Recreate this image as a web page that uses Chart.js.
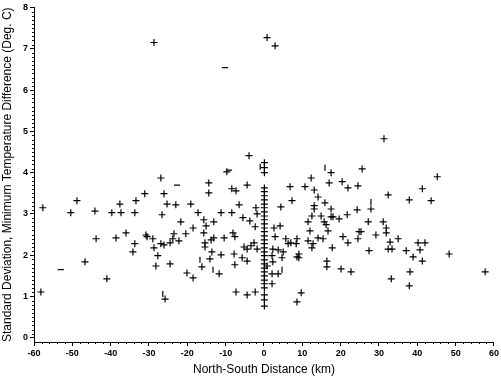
<!DOCTYPE html>
<html>
<head>
<meta charset="utf-8">
<script src="https://cdn.jsdelivr.net/npm/chart.js@4.4.0/dist/chart.umd.min.js"></script>
<style>
  html, body { margin: 0; padding: 0; background: #fff; }
  #wrap { width: 501px; height: 377px; }
</style>
</head>
<body>
<div id="wrap"><canvas id="sdChart" width="501" height="377"></canvas></div>
<script>
// station pairs: north-south separation (km) vs std. dev. of Tmin difference (deg C)
const distKm = [
  -28.7, 0.8, 2.9, 31.3, -3.9, -57.7, -48.8, -50.4, -44.1, -43.8,
  -46.7, -58.2, -41.0, -39.7, -37.3, -37.6, -38.6, -36.0, -33.4, -33.7,
  -33.7, -34.2, -31.1, -30.8, -30.5, -29.0, -28.7, -27.7, -28.2, -26.9,
  -26.1, -26.1, -26.6, -25.3, -25.8, -26.9, -23.0, -19.1, -21.7, -23.5,
  -20.4, -23.8, -24.5, -22.2, -24.5, -17.2, -14.4, -14.4, -9.7, -8.4,
  -7.3, -15.7, -13.1, -15.1, -18.5, -11.2, -8.4, -15.7, -13.1, -13.8,
  -10.4, -15.4, -15.4, -8.1, -7.6, -13.6, -11.2, -14.1, -16.2, -11.7,
  -20.1, -18.5, -7.8, -7.6, -7.3, -4.4, -6.5, -2.1, -1.8, -5.5,
  -3.7, -2.3, -5.2, -4.4, -3.4, -2.6, -1.8, -5.7, -4.4, -4.4,
  -2.3, 6.8, 7.3, 4.4, 2.6, 4.2, 2.9, 5.7, 7.0, 8.4,
  8.6, 2.3, 3.7, 5.0, 2.1, 4.7, 2.3, 8.6, 2.1, 3.7,
  2.1, 8.6, 17.5, 17.0, 12.3, 10.7, 13.1, 20.4, 21.9, 14.1,
  13.1, 13.1, 15.9, 17.5, 14.9, 12.5, 17.5, 18.0, 19.6, 21.7,
  11.5, 15.7, 16.2, 16.7, 12.0, 6.3, 11.5, 12.8, 14.1, 15.4,
  12.5, 9.1, 9.1, 17.8, 20.6, 21.9, 16.4, 16.4, 20.1, 9.7,
  25.6, 24.5, 32.4, 37.9, 41.3, 45.2, 43.6, 27.9, 24.3, 27.2,
  31.1, 31.9, 31.9, 29.2, 24.8, 25.3, 24.5, 27.4, 32.9, 32.4,
  33.4, 35.0, 37.1, 40.2, 42.0, 40.7, 38.9, 41.3, 48.3, 38.1,
  37.9, 33.2, 22.7, 57.7, 0.8,
  // pairs at (almost) zero separation
  0.1, 0.1, 0.1, 0.1, 0.1, 0.1, 0.1, 0.1, 0.1, 0.1,
  0.1, 0.1, 0.1, 0.1, 0.1, 0.1, 0.1, 0.1, 0.1, 0.1,
  0.1, 0.1, 0.1, 0.1, 0.1, 0.1, 0.1, 0.1, 0.1, 0.1,
  0.1, 0.1
];
const sdTmin = [
  7.15, 7.27, 7.07, 4.82, 4.41, 3.15, 3.32, 3.03, 3.07, 2.40,
  1.84, 1.11, 1.43, 3.03, 3.03, 3.24, 2.42, 2.54, 3.32, 3.03,
  2.28, 2.08, 3.49, 2.49, 2.45, 2.40, 2.18, 1.99, 1.74, 2.28,
  2.25, 3.49, 2.98, 3.24, 0.94, 3.87, 3.22, 3.24, 2.81, 2.52,
  2.52, 2.40, 2.30, 2.35, 1.79, 3.03, 3.75, 3.51, 4.02, 3.61,
  3.56, 2.86, 2.81, 2.71, 2.66, 3.03, 3.03, 2.54, 2.42, 2.37,
  2.42, 2.30, 2.20, 2.54, 2.45, 2.08, 2.01, 1.91, 1.72, 1.55,
  1.57, 1.45, 2.03, 1.77, 1.11, 3.70, 3.22, 3.15, 3.00, 2.91,
  2.83, 2.69, 2.20, 2.15, 2.23, 2.30, 2.15, 1.94, 1.86, 1.04,
  1.11, 3.66, 3.32, 3.17, 2.66, 2.71, 2.45, 2.40, 2.30, 2.28,
  2.40, 2.15, 2.13, 2.08, 1.99, 1.94, 1.84, 1.96, 1.55, 1.55,
  1.31, 0.87, 4.00, 3.75, 3.87, 3.66, 3.58, 3.78, 3.63, 3.41,
  3.20, 3.12, 3.27, 3.12, 2.95, 2.95, 2.93, 2.93, 2.88, 2.98,
  2.81, 2.81, 2.74, 2.59, 2.59, 2.28, 2.35, 2.28, 2.42, 2.40,
  2.18, 2.03, 1.94, 2.18, 2.45, 2.30, 1.86, 1.72, 1.67, 1.09,
  4.09, 3.68, 3.46, 3.34, 3.61, 3.90, 3.32, 3.12, 3.10, 2.81,
  2.81, 2.66, 2.54, 2.49, 2.57, 2.57, 2.40, 2.11, 2.32, 2.15,
  2.15, 2.40, 2.11, 2.30, 2.30, 2.13, 1.96, 1.86, 2.03, 1.60,
  1.26, 1.43, 1.60, 1.60, 1.74,
  4.24, 4.12, 4.00, 3.63, 3.54, 3.44, 3.34, 3.24, 3.15, 3.05,
  2.95, 2.86, 2.76, 2.66, 2.57, 2.47, 2.37, 2.28, 2.18, 2.08,
  1.99, 1.89, 1.79, 1.69, 1.60, 1.50, 1.40, 1.31, 1.21, 1.04,
  0.92, 0.77
];
// a few marks printed only as a short dash or a short bar
const dashX = [-10.2, -22.7, -53.0, -9.1];
const dashY = [6.54, 3.70, 1.65, 4.06];
const barX = [-26.4, -16.7, -13.3, -1.0, 4.7, 15.9, 27.9];
const barY = [1.06, 1.89, 1.65, 4.14, 1.65, 4.12, 3.29];

const xTicks = [-60, -50, -40, -30, -20, -10, 0, 10, 20, 30, 40, 50, 60];
const yTicks = [0, 1, 2, 3, 4, 5, 6, 7, 8];

function toPoints(xs, ys) {
  return xs.map((x, i) => ({ x: x, y: ys[i] }));
}

// small minor ticks along both axes (every 2 km, every 0.1 deg)
const minorTicksPlugin = {
  id: 'minorTicks',
  afterDraw: (chart) => {
    const ctx = chart.ctx;
    const xs = chart.scales.x;
    const ys = chart.scales.y;
    ctx.save();
    ctx.strokeStyle = '#000';
    ctx.lineWidth = 1;
    ctx.beginPath();
    for (let i = 1; i < 80; i++) {
      if (i % 10 === 0) continue;
      const py = Math.round(ys.getPixelForValue(i / 10)) + 0.5;
      ctx.moveTo(xs.left - 2, py);
      ctx.lineTo(xs.left, py);
    }
    for (let v = -58; v < 60; v += 2) {
      if (v % 10 === 0) continue;
      const px = Math.round(xs.getPixelForValue(v)) + 0.5;
      ctx.moveTo(px, ys.bottom);
      ctx.lineTo(px, ys.bottom + 2);
    }
    ctx.stroke();
    ctx.restore();
  }
};

const tickFont = { family: 'Liberation Sans', size: 9, weight: 'bold' };
const titleFont = { family: 'Liberation Sans', size: 12 };

new Chart(document.getElementById('sdChart').getContext('2d'), {
  type: 'scatter',
  data: {
    datasets: [{
      label: 'pairs',
      data: toPoints(distKm, sdTmin),
      pointStyle: 'cross',
      radius: 3.5,
      borderColor: '#000',
      borderWidth: 1.2
    }, {
      label: 'dash',
      data: toPoints(dashX, dashY),
      pointStyle: 'line',
      radius: 3,
      borderColor: '#000',
      borderWidth: 1.2
    }, {
      label: 'bar',
      data: toPoints(barX, barY),
      pointStyle: 'line',
      rotation: 90,
      radius: 3,
      borderColor: '#000',
      borderWidth: 1.2
    }]
  },
  options: {
    responsive: false,
    animation: false,
    layout: { padding: { top: 7, right: 6, left: 0, bottom: 0 } },
    plugins: {
      legend: { display: false },
      tooltip: { enabled: false }
    },
    scales: {
      x: {
        type: 'linear',
        min: -60,
        max: 60,
        afterBuildTicks: (scale) => { scale.ticks = xTicks.map(v => ({ value: v })); },
        afterFit: (scale) => { scale.height = 35; },
        ticks: { color: '#000', font: tickFont, padding: 2, maxRotation: 0 },
        grid: { display: true, drawOnChartArea: false, tickLength: 4, color: '#000' },
        border: { display: true, color: '#000', width: 1 },
        title: { display: true, text: 'North-South Distance (km)', color: '#000', font: titleFont, padding: { top: 2, bottom: 0 } }
      },
      y: {
        type: 'linear',
        min: -0.1,
        max: 8,
        afterBuildTicks: (scale) => { scale.ticks = yTicks.map(v => ({ value: v })); },
        afterFit: (scale) => { scale.width = 34; },
        ticks: { color: '#000', font: tickFont, padding: 2 },
        grid: { display: true, drawOnChartArea: false, tickLength: 4, color: '#000' },
        border: { display: true, color: '#000', width: 1 },
        title: { display: true, text: 'Standard Deviation, Minimum Temperature Difference (Deg. C)', color: '#000', font: titleFont, padding: { top: 0, bottom: 0 } }
      }
    }
  },
  plugins: [minorTicksPlugin]
});
</script>
</body>
</html>
